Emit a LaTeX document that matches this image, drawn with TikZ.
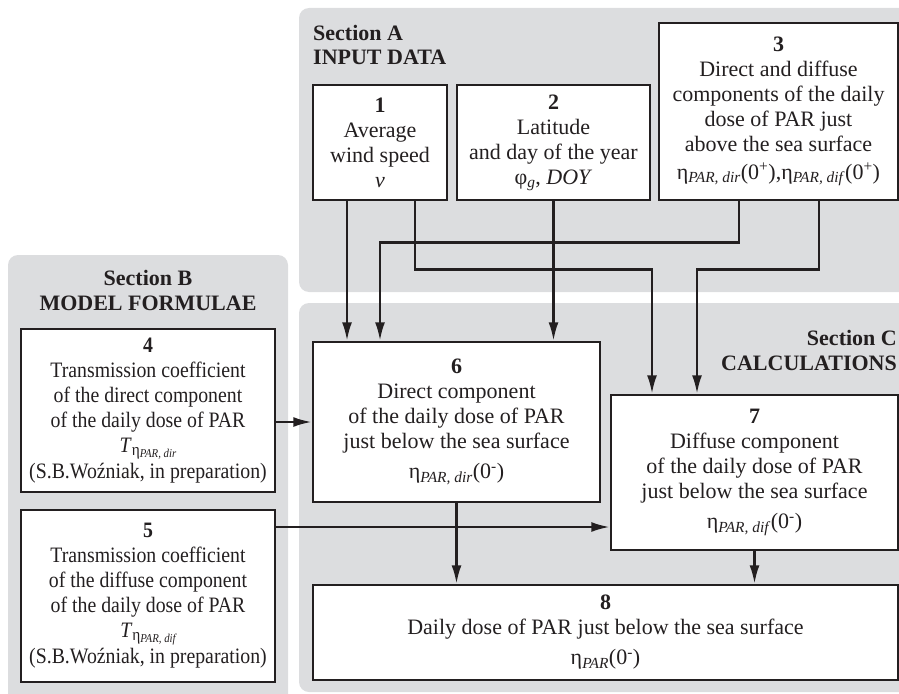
\documentclass[tikz,border=0pt]{standalone}
\usepackage{fontspec}
\setmainfont{Liberation Serif}
\newfontfamily\narrowserif{Liberation Serif}[FakeStretch=0.9]
\usetikzlibrary{arrows.meta}
\definecolor{panelgray}{RGB}{220,221,223}
\definecolor{ink}{RGB}{35,31,32}
\newcommand\tightlines{\lineskiplimit=-100pt\relax\lineskip=0pt\relax}
\newcommand\boxfont{\fontsize{22}{25}\selectfont\tightlines}
\newcommand\narrowboxfont{\narrowserif\fontsize{22}{25}\selectfont\tightlines}
% transmission coefficient symbol with a two-level subscript
\newcommand\transcoef[1]{\textit{T}\raisebox{-3pt}{\fontsize{17}{17}\selectfont η}%
  \raisebox{-5pt}{\fontsize{12}{12}\selectfont\itshape PAR, #1}}

\begin{document}
\begin{tikzpicture}[x=1pt,y=-1pt,
  panel/.style={fill=panelgray, draw=none, rounded corners=10pt},
  box/.style={draw=ink, line width=1.5pt, fill=white, align=center,
    inner sep=0pt, text=ink, font=\boxfont},
  narrowbox/.style={box, font=\narrowboxfont},
  seclabel/.style={text=ink, inner sep=0pt, font=\fontsize{22}{25}\selectfont\bfseries},
  link/.style={draw=ink, line width=2.8pt, -{Latex[length=19pt,width=10pt]}}
]
\useasboundingbox (0,0) rectangle (899,693);

% section panels
\fill[panel] (299,8) rectangle (915,292);
\fill[panel] (8,255) rectangle (288,710);
\fill[panel] (299,303) rectangle (915,692);

% section headings
\node[seclabel, anchor=base west] (laA1) at (313,41) {Section A};
\node[seclabel, anchor=base west] (laA2) at (313,65) {INPUT DATA};
\node[seclabel, anchor=base] (laB1) at (148,285) {Section B};
\node[seclabel, anchor=base] (laB2) at (148,310) {MODEL FORMULAE};
\node[seclabel, anchor=base east] (laC1) at (897,345) {Section C};
\node[seclabel, anchor=base east] (laC2) at (897,370) {CALCULATIONS};

% input data
\node[box, minimum width=134pt, minimum height=115pt] (b1) at (380,142.5)
  {\textbf{1}\\Average\\wind speed\\\textit{v}};
\node[box, minimum width=193pt, minimum height=115pt] (b2) at (553.5,142.5)
  {\textbf{2}\\Latitude\\and day of the year\\φ\textsubscript{\textit{g}}, \textit{DOY}};
\node[box, minimum width=239pt, minimum height=177pt] (b3) at (778.5,111.5)
  {\textbf{3}\\Direct and diffuse\\components of the daily\\dose of PAR just\\above the sea surface\\[3pt]
   η\textsubscript{\textit{PAR, dir}}(0\textsuperscript{+}),η\textsubscript{\textit{PAR, dif}}(0\textsuperscript{+})};

% model formulae
\node[narrowbox, minimum width=254pt, minimum height=163pt] (b4) at (148,410.5)
  {\textbf{4}\\Transmission coefficient\\of the direct component\\of the daily dose of PAR\\
   \transcoef{dir}\\[1pt](S.B.Woźniak, in preparation)};
\node[narrowbox, minimum width=254pt, minimum height=172pt] (b5) at (148,596)
  {\textbf{5}\\Transmission coefficient\\of the diffuse component\\of the daily dose of PAR\\
   \transcoef{dif}\\[1pt](S.B.Woźniak, in preparation)};

% calculations
\node[box, minimum width=287pt, minimum height=160pt] (b6) at (456.5,422)
  {\textbf{6}\\Direct component\\of the daily dose of PAR\\just below the sea surface\\[5pt]
   η\textsubscript{\textit{PAR, dir}}(0\textsuperscript{-})};
\node[box, minimum width=287pt, minimum height=155pt] (b7) at (754.5,472.5)
  {\textbf{7}\\Diffuse component\\of the daily dose of PAR\\just below the sea surface\\[5pt]
   η\textsubscript{\textit{PAR, dif}}(0\textsuperscript{-})};
\node[box, minimum width=585pt, minimum height=95pt] (b8) at (605.5,632.5)
  {\textbf{8}\\Daily dose of PAR just below the sea surface\\[5pt]
   η\textsubscript{\textit{PAR}}(0\textsuperscript{-})};

% connector end points
\coordinate (s1) at ([xshift=-33pt]b1.south);
\coordinate (s2) at ([xshift=35pt]b1.south);
\coordinate (s4) at ([xshift=-39.5pt]b3.south);
\coordinate (s5) at ([xshift=40.5pt]b3.south);
\coordinate (t2) at ([xshift=-102.5pt]b7.north);
\coordinate (t4) at ([xshift=-76.5pt]b6.north);
\coordinate (t5) at ([xshift=-57.5pt]b7.north);
\coordinate (s6) at ([yshift=-11.5pt]b4.east);
\coordinate (s7) at ([yshift=69pt]b5.east);

% connectors
\draw[link] (s1) -- (s1 |- b6.north);
\draw[link] (b2.south) -- (b2.south |- b6.north);
\draw[link] (s4) -- ++(0,42) -| (t4);
\draw[link] (s2) -- ++(0,69) -| (t2);
\draw[link] (s5) -- ++(0,69) -| (t5);
\draw[link] (s6) -- (s6 -| b6.west);
\draw[link] (s7) -- (s7 -| b7.west);
\draw[link] (b6.south) -- (b6.south |- b8.north);
\draw[link] (b7.south) -- (b7.south |- b8.north);
\end{tikzpicture}
\end{document}
